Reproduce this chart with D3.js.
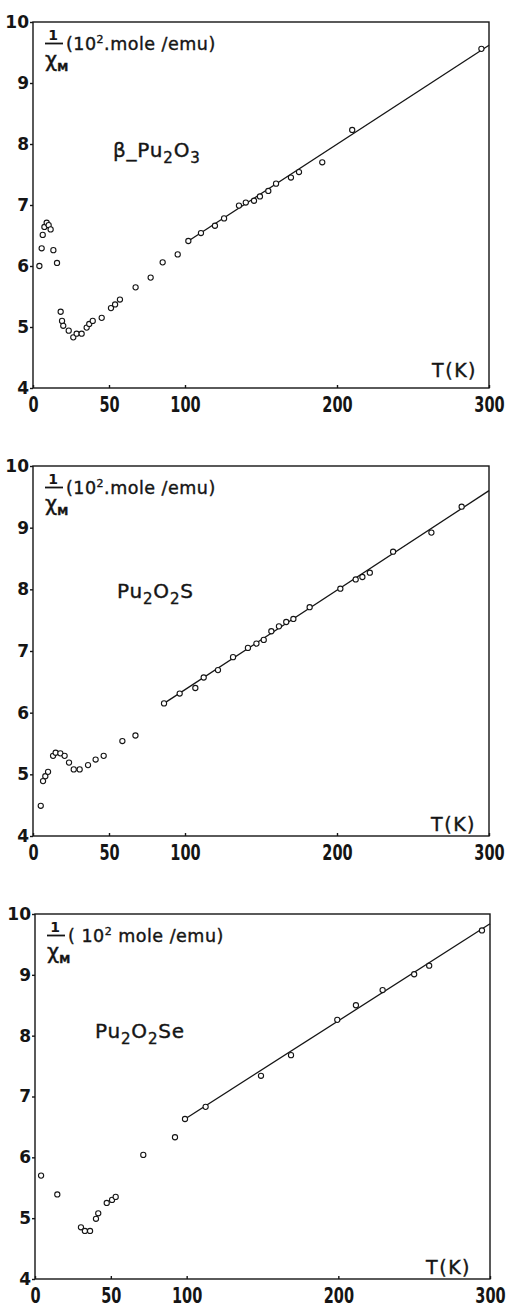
<!DOCTYPE html>
<html>
<head>
<meta charset="utf-8">
<script src="https://cdn.jsdelivr.net/npm/d3@7"></script>
<style>
  body { margin: 0; background: #fff; }
  svg { display: block; }
  text { font-family: "DejaVu Sans", sans-serif; fill: #151515; }
  .med { stroke: #151515; stroke-width: 0.4px; }
</style>
</head>
<body>
<svg width="507" height="1307"></svg>
<script>
// temperatures (K) and 1/chi_M (10^2 mole/emu)
var tempsPu2O3 = [4.2, 5.7, 6.4, 7.5, 9, 10.3, 11.6, 13.4, 15.8, 18.2, 19.1, 19.9, 23.5, 26.5, 28.7, 32, 35.3, 37, 39.3,
    45.2, 51.3, 54, 57.2, 67.5, 77.4, 85.3, 95.2, 102.2, 110.5, 119.7, 125.7, 135.5, 140, 145.4, 149.3, 154.8, 159.9,
    169.7, 175, 190.3, 210, 295];
var invChiPu2O3 = [6.0, 6.29, 6.51, 6.64, 6.71, 6.67, 6.6, 6.26, 6.05, 5.25, 5.1, 5.02, 4.94, 4.83, 4.89, 4.89, 4.99, 5.05, 5.1,
    5.15, 5.31, 5.37, 5.45, 5.65, 5.81, 6.06, 6.19, 6.41, 6.54, 6.66, 6.78, 6.99, 7.04, 7.07, 7.14, 7.23, 7.35,
    7.45, 7.54, 7.7, 8.23, 9.56];

var tempsPu2O2S = [5.1, 6.6, 8.1, 9.9, 13.2, 14.9, 18, 20.8, 23.7, 26.8, 30.7, 36.2, 41.2, 46.5, 58.8, 67.4,
    86.2, 96.5, 106.8, 112.3, 121.7, 131.6, 141.4, 147, 151.8, 156.8, 161.8, 166.6, 171.3, 182, 202.2, 212.3, 216.7,
    221.6, 236.9, 262.1, 282];
var invChiPu2O2S = [4.49, 4.89, 4.97, 5.04, 5.3, 5.35, 5.34, 5.3, 5.19, 5.08, 5.08, 5.15, 5.24, 5.3, 5.54, 5.63,
    6.15, 6.31, 6.4, 6.57, 6.69, 6.9, 7.05, 7.12, 7.18, 7.32, 7.4, 7.47, 7.52, 7.71, 8.01, 8.16, 8.2,
    8.27, 8.61, 8.92, 9.34];

var tempsPu2O2Se = [4, 14.7, 30.3, 32.9, 36.3, 40.2, 41.7, 47.3, 50.8, 53.2, 71.4, 92.3, 98.9, 112.5, 149, 168.8,
    199.3, 211.6, 229.2, 250, 259.9, 294.7];
var invChiPu2O2Se = [5.7, 5.39, 4.85, 4.79, 4.79, 4.99, 5.08, 5.25, 5.3, 5.35, 6.04, 6.33, 6.63, 6.83, 7.34, 7.68,
    8.26, 8.5, 8.75, 9.01, 9.15, 9.73];

// straight-line fits: [T, 1/chi] at both ends
var fitPu2O3 = [[102.2, 6.41], [300, 9.62]];
var fitPu2O2S = [[86.2, 6.15], [300, 9.6]];
var fitPu2O2Se = [[98.9, 6.63], [300, 9.84]];

var xTicks = [0, 50, 100, 200, 300];
var yTicks = [4, 5, 6, 7, 8, 9, 10];
var xDomain = [0, 300];
var yDomain = [4, 10];

var svg = d3.select("svg");
var ink = "#151515";

var panels = [
    { t: tempsPu2O3, v: invChiPu2O3, fit: fitPu2O3, name: [["β_Pu", 0], ["2", 1], ["O", 0], ["3", 1]], dot: true,
      top: 22, bottom: 388, left: 33, right: 489, nameX: 113, nameY: 135, tkX: 477, tkY: 11 },
    { t: tempsPu2O2S, v: invChiPu2O2S, fit: fitPu2O2S, name: [["Pu", 0], ["2", 1], ["O", 0], ["2", 1], ["S", 0]], dot: true,
      top: 466, bottom: 836, left: 33, right: 489, nameX: 117, nameY: 132, tkX: 476, tkY: 5 },
    { t: tempsPu2O2Se, v: invChiPu2O2Se, fit: fitPu2O2Se, name: [["Pu", 0], ["2", 1], ["O", 0], ["2", 1], ["Se", 0]], dot: false,
      top: 914, bottom: 1279, left: 35, right: 490, nameX: 95, nameY: 124, tkX: 471, tkY: 5 }
];

panels.forEach(function(p) {
    var x = d3.scaleLinear().domain(xDomain).range([p.left, p.right]);
    var y = d3.scaleLinear().domain(yDomain).range([p.bottom, p.top]);
    var g = svg.append("g");

    // frame
    g.append("rect").attr("x", p.left).attr("y", p.top)
        .attr("width", p.right - p.left).attr("height", p.bottom - p.top)
        .attr("fill", "none").attr("stroke", ink).attr("stroke-width", 1.4);

    var xAxis = g.append("g").attr("transform", "translate(0," + p.bottom + ")")
        .call(d3.axisBottom(x).tickValues(xTicks).tickSize(-3).tickPadding(8).tickFormat(d3.format("d")));
    xAxis.select(".domain").remove();
    xAxis.selectAll("line").attr("stroke", ink).attr("stroke-width", 1.4);
    xAxis.selectAll("text").attr("font-size", 22).attr("font-weight", "bold")
        .attr("font-family", "DejaVu Sans").attr("fill", ink).attr("transform", "scale(0.66,1)");

    var yAxis = g.append("g").attr("transform", "translate(" + p.left + ",0)")
        .call(d3.axisLeft(y).tickValues(yTicks).tickSize(3).tickPadding(1).tickFormat(d3.format("d")));
    yAxis.select(".domain").remove();
    yAxis.selectAll("line").attr("stroke", ink).attr("stroke-width", 1.4);
    yAxis.selectAll("text").attr("font-size", 17).attr("font-weight", "bold")
        .attr("font-family", "DejaVu Sans").attr("fill", ink);

    // fitted line
    g.append("path").datum(p.fit)
        .attr("d", d3.line().x(function(d) { return x(d[0]); }).y(function(d) { return y(d[1]); }))
        .attr("fill", "none").attr("stroke", ink).attr("stroke-width", 1.3);

    // measured points
    g.selectAll("circle.pt").data(d3.range(p.t.length)).enter().append("circle")
        .attr("class", "pt")
        .attr("cx", function(i) { return x(p.t[i]); })
        .attr("cy", function(i) { return y(p.v[i]); })
        .attr("r", 2.6)
        .attr("fill", "#fff").attr("stroke", ink).attr("stroke-width", 1.1);

    // y title: 1/chi_M (10^2 mole/emu)
    g.append("text").attr("x", p.left + 20).attr("y", p.top + 18).attr("text-anchor", "middle")
        .attr("font-size", 14).attr("font-weight", "bold").text("1");
    g.append("line").attr("x1", p.left + 12).attr("x2", p.left + 30)
        .attr("y1", p.top + 21.5).attr("y2", p.top + 21.5).attr("stroke", ink).attr("stroke-width", 1.8);
    var chi = g.append("text").attr("class", "med").attr("x", p.left + 12).attr("y", p.top + 45).attr("font-size", 21);
    chi.append("tspan").text("χ");
    chi.append("tspan").attr("font-size", 11).attr("font-weight", "bold").attr("dy", 4).text("M");

    var unit = g.append("text").attr("class", "med").attr("x", p.left + 33).attr("y", p.top + 28)
        .attr("font-size", 17.5).attr("letter-spacing", 0.5);
    unit.append("tspan").text(p.dot ? "(10" : "( 10");
    unit.append("tspan").attr("font-size", 11).attr("dy", -7).text("2");
    unit.append("tspan").attr("dy", 7).text(p.dot ? ".mole /emu)" : " mole /emu)");

    // compound name with subscripts
    var nm = g.append("text").attr("class", "med").attr("x", p.nameX).attr("y", p.top + p.nameY)
        .attr("font-size", 20).attr("letter-spacing", 0.8);
    var prev = 0;
    p.name.forEach(function(part) {
        nm.append("tspan").attr("font-size", part[1] ? 15 : 20)
            .attr("dy", (part[1] - prev) * 6).text(part[0]);
        prev = part[1];
    });

    // T(K)
    g.append("text").attr("class", "med").attr("x", p.tkX).attr("y", p.bottom - p.tkY).attr("text-anchor", "end")
        .attr("font-size", 19).attr("letter-spacing", 1.5).text("T(K)");
});
</script>
</body>
</html>
